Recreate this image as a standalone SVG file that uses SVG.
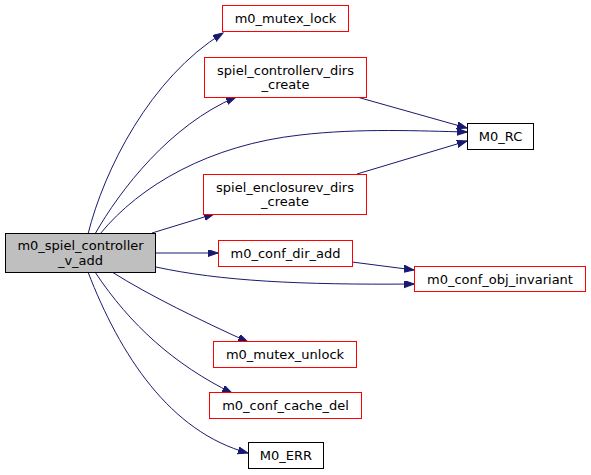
<svg xmlns="http://www.w3.org/2000/svg" width="591" height="475" viewBox="0 0 591 475">
<style>
.n rect{stroke-width:1}
.red rect{fill:#ffffff;stroke:#ff0000}
.blk rect{fill:#ffffff;stroke:#000000}
.main rect{fill:#bfbfbf;stroke:#000000}
text{font-family:"DejaVu Sans","Liberation Sans",sans-serif;font-size:13px;fill:#000;text-anchor:middle}
.e path{fill:none;stroke:#191970;stroke-width:1}
</style>
<defs>
<marker id="ah" markerUnits="userSpaceOnUse" markerWidth="11" markerHeight="8" refX="10" refY="3.5" orient="auto">
<path d="M0,0 L10,3.5 L0,7 z" fill="#191970" stroke="#191970" stroke-width="1"/>
</marker>
</defs>
<g id="edges" class="e">
<path marker-end="url(#ah)" d="M88,234 C104,170 150,78 223,33"/>
<path marker-end="url(#ah)" d="M95,234 C120,190 170,125 236,97"/>
<path marker-end="url(#ah)" d="M100,234 C140,185 210,145 300,135 C360,128 420,131 467,132"/>
<path marker-end="url(#ah)" d="M152,233 L214,214"/>
<path marker-end="url(#ah)" d="M156,253 L218,253"/>
<path marker-end="url(#ah)" d="M156,267 C220,281 300,285 414,284"/>
<path marker-end="url(#ah)" d="M112,272 C150,296 200,320 248,342"/>
<path marker-end="url(#ah)" d="M95,272 C130,325 175,365 232,393"/>
<path marker-end="url(#ah)" d="M88,272 C120,355 170,432 248,453"/>
<path marker-end="url(#ah)" d="M357,97 L467,128"/>
<path marker-end="url(#ah)" d="M357,174 L467,141"/>
<path marker-end="url(#ah)" d="M352,262 L414,270"/>
</g>
<g id="node_main" class="n main">
<rect x="5.5" y="233.5" width="150" height="39"/>
<text x="80.5" y="250">m0_spiel_controller</text>
<text x="80.5" y="264.5">_v_add</text>
</g>
<g id="node_mutex_lock" class="n red">
<rect x="222.5" y="5.5" width="126" height="26"/>
<text x="285.5" y="22.5">m0_mutex_lock</text>
</g>
<g id="node_ctrl_dirs" class="n red">
<rect x="204.5" y="57.5" width="162" height="40"/>
<text x="285.5" y="74.5">spiel_controllerv_dirs</text>
<text x="285.5" y="89">_create</text>
</g>
<g id="node_rc" class="n blk">
<rect x="467.5" y="123.5" width="66" height="26"/>
<text x="500.5" y="140.5">M0_RC</text>
</g>
<g id="node_encl_dirs" class="n red">
<rect x="203.5" y="174.5" width="163" height="40"/>
<text x="285" y="191.5">spiel_enclosurev_dirs</text>
<text x="285" y="206">_create</text>
</g>
<g id="node_conf_dir_add" class="n red">
<rect x="218.5" y="240.5" width="134" height="26"/>
<text x="285.5" y="257.5">m0_conf_dir_add</text>
</g>
<g id="node_obj_inv" class="n red">
<rect x="414.5" y="266.5" width="171" height="25"/>
<text x="500" y="283.5">m0_conf_obj_invariant</text>
</g>
<g id="node_mutex_unlock" class="n red">
<rect x="213.5" y="341.5" width="143" height="26"/>
<text x="285" y="358.5">m0_mutex_unlock</text>
</g>
<g id="node_cache_del" class="n red">
<rect x="209.5" y="392.5" width="152" height="26"/>
<text x="285.5" y="409.5">m0_conf_cache_del</text>
</g>
<g id="node_err" class="n blk">
<rect x="248.5" y="442.5" width="75" height="26"/>
<text x="286" y="459.5">M0_ERR</text>
</g>
</svg>
